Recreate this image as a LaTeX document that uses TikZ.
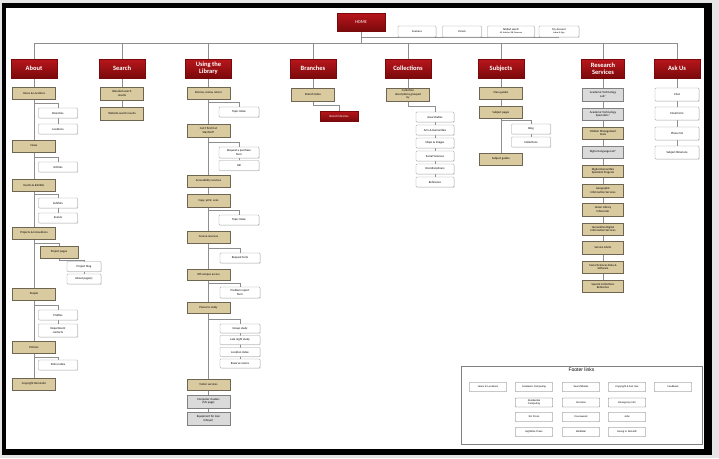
\documentclass[tikz,border=0pt]{standalone}
\usepackage{fontspec}
\setmainfont{Carlito}
\newfontfamily\footfont{Liberation Sans}
\usetikzlibrary{backgrounds,shadows}

\definecolor{hdrred}{HTML}{B8161B}
\definecolor{hdrdark}{HTML}{7A090B}
\definecolor{tanfill}{HTML}{D9CA9F}
\definecolor{tanline}{HTML}{6E6652}
\definecolor{boxgray}{HTML}{DADADA}
\definecolor{wirecol}{HTML}{8E8E8E}

\begin{document}
\begin{tikzpicture}[x=1pt, y=-1pt,
    every node/.style={inner sep=.6pt, align=center},
    soft/.style={drop shadow={opacity=.3, shadow xshift=.7pt, shadow yshift=-.7pt}},
    hdr/.style={soft, draw=hdrdark, top color=hdrred, bottom color=hdrdark, text=white,
      minimum width=46pt, minimum height=19pt, font=\bfseries\fontsize{6.5}{6.8}\selectfont},
    redsub/.style={soft, draw=hdrdark, top color=hdrred, bottom color=hdrdark, text=white,
      minimum width=38pt, minimum height=10pt, font=\fontsize{3}{3.4}\selectfont},
    pg/.style={soft, draw=tanline, fill=tanfill, minimum width=43pt, minimum height=12pt,
      font=\fontsize{3}{3.4}\selectfont},
    gry/.style={pg, draw=gray, fill=boxgray},
    sub/.style={soft, draw=gray!80, fill=white, rounded corners=.8pt, minimum width=39pt,
      minimum height=10pt, font=\fontsize{3}{3.4}\selectfont},
    mini/.style={sub, minimum height=11pt, font=\fontsize{2.8}{3.1}\selectfont},
    rs/.style={minimum width=41pt, minimum height=12.5pt},
    ft/.style={draw=black!60, fill=white, rounded corners=.5pt, minimum width=37pt,
      minimum height=9pt, font=\footfont\fontsize{2.5}{2.9}\selectfont},
    wire/.style={draw=wirecol, line width=.9pt}
  ]
  \useasboundingbox (0,0) rectangle (719,458);

  % top
  \node[hdr, minimum width=48pt, minimum height=18pt, font=\fontsize{4.5}{5}\selectfont] (home) at (361,22) {HOME};
  \node[mini, minimum width=38pt] (feat) at (417,31.5) {Features};
  \node[mini, minimum width=39pt] (panels) at (462,31.5) {Panels};
  \node[mini, minimum width=47pt] (tabbed) at (511,31.5) {Tabbed search\\{\fontsize{2.2}{2.5}\selectfont All, Articles, DB, Reserves}};
  \node[mini, minimum width=40pt] (acct) at (559,31.5) {My Account\\{\fontsize{2.2}{2.5}\selectfont Inbox \& Sign}};

  % section heads
  \node[hdr] (about) at (34,68.5) {About};
  \node[hdr] (search) at (122,68.5) {Search};
  \node[hdr] (using) at (208.5,68.5) {Using the\\Library};
  \node[hdr] (branches) at (313,68.5) {Branches};
  \node[hdr] (collections) at (408,68.5) {Collections};
  \node[hdr] (subjects) at (501,68.5) {Subjects};
  \node[hdr, minimum width=43pt] (research) at (603,69) {Research\\Services};
  \node[hdr] (ask) at (677,68.5) {Ask Us};

  % About
  \node[pg] (hours) at (34,93) {Hours \& Locations};
  \node[sub] (branchpg) at (58,113) {Branches};
  \node[sub] (locs) at (58,129) {Locations};
  \node[pg] (news) at (34,146) {News};
  \node[sub] (articles) at (58,167) {Articles};
  \node[pg] (events) at (34,185) {Events \& Exhibits};
  \node[sub] (exhib) at (58,203) {Exhibits};
  \node[sub] (evts) at (58,218) {Events};
  \node[pg] (projects) at (34,233) {Projects \& Innovations};
  \node[pg, minimum width=38pt] (projpages) at (59,252) {Project pages};
  \node[sub, minimum width=34pt] (projblog) at (84,266.5) {Project blog};
  \node[sub, minimum width=34pt] (aboutpg) at (84,279) {About page(s)};
  \node[pg] (people) at (34,294) {People};
  \node[sub] (profiles) at (58,315) {Profiles};
  \node[sub, minimum height=13pt] (deptc) at (58,330.5) {Department\\contacts};
  \node[pg] (policies) at (34,347) {Policies};
  \node[sub] (policyidx) at (58,365) {Policy index};
  \node[pg] (copyr) at (34,384) {Copyright Reminder};

  % Search
  \node[pg, minimum height=13pt] (blended) at (122,93.5) {Blended search\\results};
  \node[pg, minimum height=13pt] (website) at (122,113.5) {Website search results};

  % Using the Library
  \node[pg] (borrow) at (208.5,93) {Borrow, renew, return};
  \node[sub, minimum width=40pt] (topic1) at (239,112) {Topic index};
  \node[pg, minimum height=13pt] (cantfind) at (208.5,130.5) {Can't find it at\\Stanford?};
  \node[sub, minimum width=40pt, minimum height=11pt] (reqpurch) at (239,152.5) {Request a purchase\\form};
  \node[sub, minimum width=40pt] (ilb) at (239,165.5) {ILB};
  \node[pg] (access) at (208.5,181) {Accessibility services};
  \node[pg, minimum height=13pt] (copy) at (208.5,200.5) {Copy, print, scan};
  \node[sub, minimum width=40pt] (topic2) at (239,220) {Topic index};
  \node[pg] (course) at (208.5,237) {Course reserves};
  \node[sub, minimum width=40pt] (reqform) at (240,258) {Request form};
  \node[pg, minimum height=11pt] (offc) at (208.5,275) {Off-campus access};
  \node[sub, minimum width=40pt, minimum height=11pt] (probrep) at (240,292.5) {Problem report\\form};
  \node[pg, minimum height=11pt] (places) at (208.5,308) {Places to study};
  \node[sub, minimum width=40pt, minimum height=9pt] (group) at (240,328.5) {Group study};
  \node[sub, minimum width=40pt, minimum height=9pt] (late) at (240,340) {Late night study};
  \node[sub, minimum width=40pt, minimum height=9pt] (locidx) at (240,352) {Location index};
  \node[sub, minimum width=40pt, minimum height=9pt] (rooms) at (240,363.5) {Reserve rooms};
  \node[pg, minimum height=11pt] (visitor) at (208.5,384.5) {Visitor services};
  \node[gry, minimum height=13pt] (clusters) at (208.5,401.5) {Computer clusters\\(ML page)};
  \node[gry, minimum height=13pt] (equip) at (208.5,418.5) {Equipment for loan\\(Meyer)};

  % Branches
  \node[pg, minimum height=13pt] (bindex) at (313,94.5) {Branch index};
  \node[redsub] (blibs) at (339,116) {Branch libraries};

  % Collections
  \node[pg, minimum height=13pt] (cdesc) at (408,94.5) {Collection\\descriptions grouped\\by};
  \node[sub, minimum width=38pt] (area) at (435,117) {Area Studies};
  \node[sub, minimum width=38pt] (arts) at (435,130) {Arts \& Humanities};
  \node[sub, minimum width=38pt] (maps) at (435,143) {Maps \& Images};
  \node[sub, minimum width=38pt] (social) at (435,156) {Social Sciences};
  \node[sub, minimum width=38pt] (inter) at (435,169) {Interdisciplinary};
  \node[sub, minimum width=38pt] (ref) at (435,182) {Reference};

  % Subjects
  \node[pg] (classg) at (501,93) {Class guides};
  \node[pg] (subjp) at (501,112.5) {Subject pages};
  \node[sub] (blog) at (531,129) {Blog};
  \node[sub] (colls) at (531,142) {Collections};
  \node[pg] (subjg) at (501,159) {Subject guides};

  % Research Services
  \node[gry, rs] (r1) at (603,94.5) {Academic Technology\\Lab*};
  \node[gry, rs] (r2) at (603,114) {Academic Technology\\Specialists*};
  \node[pg, rs] (r3) at (603,133) {Citation Management\\tools};
  \node[gry, rs] (r4) at (603,152) {Digital Language Lab*};
  \node[pg, rs] (r5) at (603,171) {Digital Humanities\\Specialist Program};
  \node[pg, rs] (r6) at (603,190.5) {Geographic\\Information Services};
  \node[pg, rs] (r7) at (603,209.5) {Green Library\\Infocenter};
  \node[pg, rs] (r8) at (603,229) {Humanities Digital\\Information Services};
  \node[pg, rs] (r9) at (603,247.5) {Service Alerts};
  \node[pg, rs] (r10) at (603,267) {Social Sciences Data \&\\Software};
  \node[pg, rs] (r11) at (603,286) {Special Collections\\Reference};

  % Ask Us
  \node[sub, minimum width=44pt, minimum height=13pt] (chat) at (677,94.5) {Chat};
  \node[sub, minimum width=44pt, minimum height=13pt] (email) at (677,113.5) {Email form};
  \node[sub, minimum width=44pt, minimum height=13pt] (phone) at (677,133.5) {Phone list};
  \node[sub, minimum width=44pt, minimum height=13pt] (sublib) at (677,152.5) {Subject librarians};

  % footer links
  \node[draw=gray, minimum width=241pt, minimum height=78pt, inner sep=0pt] (footer) at (581.5,405) {};
  \node[font=\footfont\fontsize{5}{5}\selectfont, below=1.5pt] (ftitle) at (footer.north) {Footer links};
  \node[ft] (f1) at (488,387) {Hours \& Locations};
  \node[ft] (f2) at (534,387) {Academic Computing};
  \node[ft] (f3) at (581,387) {SearchWorks};
  \node[ft] (f4) at (627,387) {Copyright \& Fair Use};
  \node[ft] (f5) at (673,387) {Feedback};
  \node[ft] (f6) at (534,402.5) {Residential\\Computing};
  \node[ft] (f7) at (581,402.5) {Socrates};
  \node[ft] (f8) at (627,402.5) {Emergency Info};
  \node[ft] (f9) at (534,417) {SU Press};
  \node[ft] (f10) at (581,417) {Coursework};
  \node[ft] (f11) at (627,417) {Jobs};
  \node[ft] (f12) at (534,432) {HighWire Press};
  \node[ft] (f13) at (581,432) {WebMail};
  \node[ft] (f14) at (627,432) {Giving to SULAIR};

  \begin{pgfonlayer}{background}
    % frame
    \fill[gray!20] (0,0) rectangle (719,458);
    \fill[black] (2,3) rectangle (712,455);
    \fill[white] (6,8) rectangle (704,449);

    % bus
    \coordinate (bus) at (361,43);
    \draw[wire] (home) -- (bus);
    \draw[wire] (home |- feat.south) -- (acct.south);
    \draw[wire] (about |- bus) -- (ask |- bus);
    \foreach \h in {about,search,using,branches,collections,subjects,research,ask}
      \draw[wire] (\h |- bus) -- (\h.north);

    % spines
    \draw[wire] (about) -- (copyr);
    \draw[wire] (search) -- (website);
    \draw[wire] (using) -- (equip);
    \draw[wire] (branches) -- (bindex);
    \draw[wire] (collections) -- (cdesc);
    \draw[wire] (subjects) -- (subjg);
    \draw[wire] (research) -- (r11);
    \draw[wire] (ask) -- (sublib);

    % branch-offs
    \draw[wire] (hours.south) ++(0,4) -| (branchpg.north);
    \draw[wire] (branchpg) -- (locs);
    \draw[wire] (news.south) ++(0,5) -| (articles.north);
    \draw[wire] (events.south) ++(0,3) -| (exhib.north);
    \draw[wire] (exhib) -- (evts);
    \draw[wire] (projects.south) ++(0,4) -| (projpages.north);
    \draw[wire] (projpages.south) -- ++(0,2.5) -| (projblog.north);
    \draw[wire] (projblog) -- (aboutpg);
    \draw[wire] (people.south) ++(0,5) -| (profiles.north);
    \draw[wire] (profiles) -- (deptc);
    \draw[wire] (policies.south) ++(0,4) -| (policyidx.north);

    \draw[wire] (borrow.south) ++(0,3) -| (topic1.north);
    \draw[wire] (cantfind.south) ++(0,5) -| (reqpurch.north);
    \draw[wire] (reqpurch) -- (ilb);
    \draw[wire] (copy.south) ++(0,3) -| (topic2.north);
    \draw[wire] (course.south) ++(0,5) -| (reqform.north);
    \draw[wire] (offc.south) ++(0,3) -| (probrep.north);
    \draw[wire] (places.south) ++(0,6) -| (group.north);
    \draw[wire] (group) -- (rooms);

    \draw[wire] (bindex.south) -- ++(0,4) -| (blibs.north);
    \draw[wire] (cdesc.south) -- ++(0,5) -| (area.north);
    \draw[wire] (area) -- (ref);
    \draw[wire] (subjp.south) ++(0,1.5) -| (blog.north);
    \draw[wire] (blog) -- (colls);
  \end{pgfonlayer}
\end{tikzpicture}
\end{document}
